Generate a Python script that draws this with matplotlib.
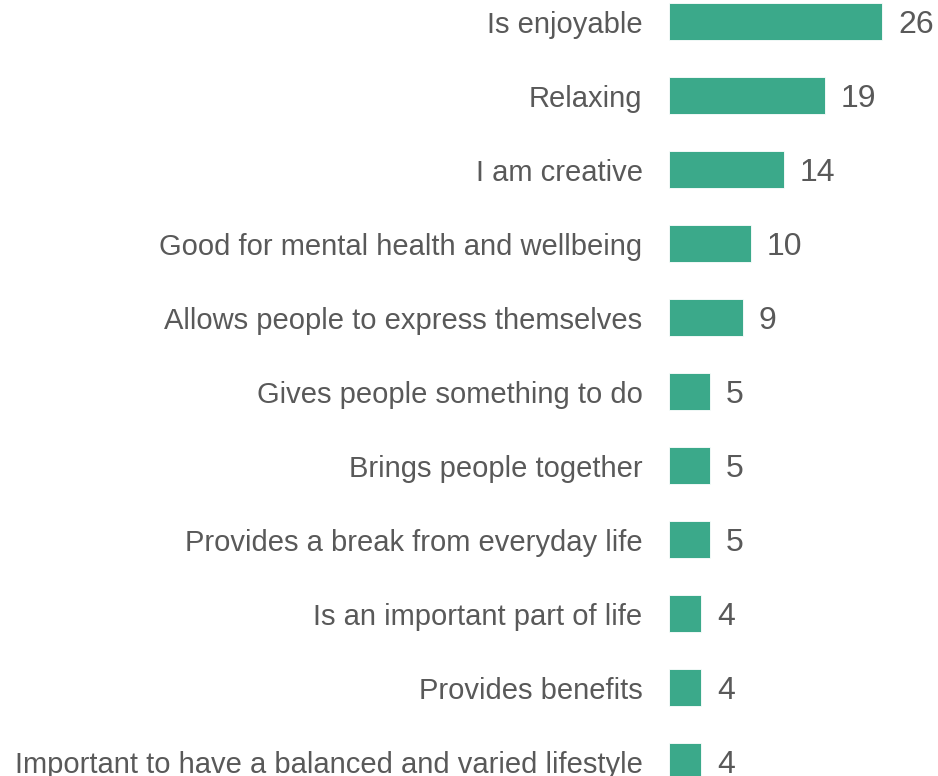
import matplotlib
matplotlib.use("Agg")
import matplotlib.pyplot as plt

# Data
labels = [
    "Is enjoyable",
    "Relaxing",
    "I am creative",
    "Good for mental health and wellbeing",
    "Allows people to express themselves",
    "Gives people something to do",
    "Brings people together",
    "Provides a break from everyday life",
    "Is an important part of life",
    "Provides benefits",
    "Important to have a balanced and varied lifestyle",
]
values = [26, 19, 14, 10, 9, 5, 5, 5, 4, 4, 4]

BAR_COLOR = "#3BA98A"
TEXT_COLOR = "#595959"

plt.rcParams["font.family"] = ["Liberation Sans", "DejaVu Sans"]

fig = plt.figure(figsize=(9.38, 7.76), dpi=100)
ax = fig.add_axes([668.5 / 938, 0, 269.5 / 938, 1])

ypos = list(range(len(labels)))
ax.barh(ypos, values, height=0.5, color=BAR_COLOR, edgecolor="white", linewidth=0.6)

# value labels to the right of each bar
for y, v in zip(ypos, values):
    ax.annotate(str(v), xy=(v, y), xytext=(11.5, -2.2), textcoords="offset points",
                ha="left", va="center", fontsize=23, color=TEXT_COLOR)

ax.set_xlim(0, 269.5 / 8.23)
ax.set_ylim((776 - 22) / 74, -22 / 74)
ax.set_yticks(ypos)
ax.set_yticklabels(labels, fontsize=21, color=TEXT_COLOR)
ax.tick_params(axis="y", length=0, pad=26 * 0.72)
ax.set_xticks([])
for s in ax.spines.values():
    s.set_visible(False)

fig.savefig("out.png", dpi=100)
